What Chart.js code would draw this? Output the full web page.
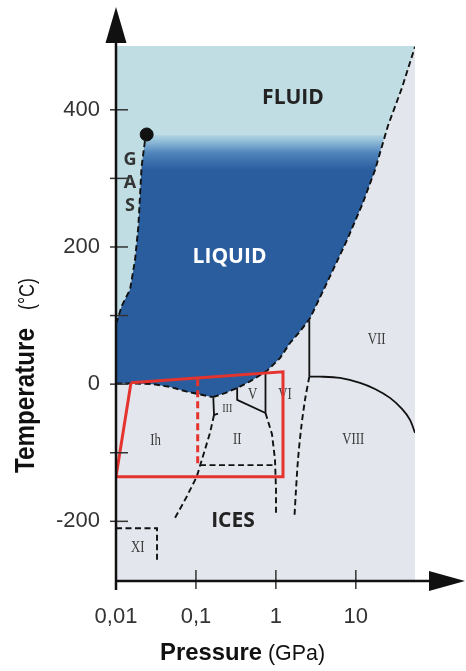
<!DOCTYPE html>
<html><head><meta charset="utf-8">
<script src="https://cdn.jsdelivr.net/npm/chart.js@4.4.0/dist/chart.umd.min.js"></script>
<style>html,body{margin:0;padding:0;background:#fff;}#wrap{width:466px;height:671px;position:relative;}</style>
</head><body><div id="wrap"><canvas id="c" width="466" height="671"></canvas></div>
<script>
// ---------- data: pressure (GPa) and temperature (°C) ----------
const xTickValues = [0.01, 0.1, 1, 10];
const xTickLabels = ['0,01', '0,1', '1', '10'];
const yTickValues = [-200, -100, 0, 100, 200, 300, 400];
const yTickLabels = ['-200', '', '0', '', '200', '', '400'];

// liquid–gas (vaporisation) curve up to the critical point
const vaporP = [0.01, 0.0119, 0.0150, 0.0173, 0.0190, 0.0209, 0.0231, 0.0242];
const vaporT = [88, 115, 138, 181, 229, 317, 356, 363];
const criticalP = [0.0242];
const criticalT = [364];

// melting curve of ice Ih
const meltIhP = [0.01, 0.0173, 0.0290, 0.0474, 0.0773, 0.1125, 0.163];
const meltIhT = [1, 1, 0, -4, -11, -15, -19];

// melting curve of high-pressure ices (III, V, VI, VII)
const meltHighP = [0.163, 0.231, 0.324, 0.475, 0.768, 1.126, 1.502, 2.004, 2.673, 4.487, 7.758, 11.95, 17.38, 25.27, 37.8, 55];
const meltHighT = [-19, -13, -6, 4, 19, 38, 60, 77, 96, 151, 210, 261, 312, 377, 432, 492];

// top edge of the liquid area (fading into the fluid)
const liquidTopP = [0.0242, 23.0];
const liquidTopT = [363, 363];

// solid–solid boundaries
const ihIIIP = [0.165, 0.1683, 0.1888];
const ihIIIT = [-20, -45, -43];
const ihIIP = [0.1683, 0.15, 0.1262, 0.1022, 0.0751, 0.0547];
const ihIIT = [-45, -71, -100, -135, -166, -195];
const iiiVP = [0.328, 0.328, 0.7415];
const iiiVT = [-5, -23, -42];
const vViP = [0.7415, 0.7415];
const vViT = [19, -42];
const iiViP = [0.7415, 0.894, 0.975, 1.0035, 1.0035];
const iiViT = [-42, -73, -110, -154, -190];
const viViiP = [2.62, 2.62];
const viViiT = [93, 11];
const viiViiiP = [2.62, 3.564, 6.339, 11.28, 17.38, 26.77, 37.82, 47.63, 55];
const viiViiiT = [11, 11, 9, 2, -7, -20, -36, -52, -71];
const viViiiP = [2.62, 2.314, 2.062, 1.891, 1.785, 1.71];
const viViiiT = [11, -23, -66, -110, -154, -192];
const iiLowP = [0.1124, 1.0035];
const iiLowT = [-118, -118];
const xiP = [0.01, 0.0326, 0.0326];
const xiT = [-210, -210, -261];

// highlighted (red) window
const boxP = [0.0154, 1.228, 1.228, 0.01, 0.0154];
const boxT = [2, 18, -135, -135, 2];
const boxDivP = [0.1052, 0.1052];
const boxDivT = [7, -119];

// region names and their anchors
const regionNames = ['FLUID', 'LIQUID', 'ICES', 'GAS', 'Ih', 'II', 'III', 'V', 'VI', 'VII', 'VIII', 'XI'];
const regionP = [1.637, 0.263, 0.2908, 0.0150, 0.0312, 0.329, 0.247, 0.513, 1.3, 18.25, 9.3, 0.0187];
const regionT = [417, 186, -200, 293, -83, -81, -35, -15, -15, 65, -81, -239];

const xMin = 0.01, xMax = 55, yMin = -287, yMax = 493;

// ---------- helpers ----------
const pts = (P, T) => P.map((p, i) => ({x: p, y: T[i]}));
const rev = a => a.slice().reverse();

const fluidShape = [{x: xMin, y: yMax}, {x: xMax, y: yMax}]
  .concat(rev(pts(meltHighP, meltHighT)), rev(pts(meltIhP, meltIhT)));
const liquidShape = pts(vaporP, vaporT)
  .concat([pts(liquidTopP, liquidTopT)[1]], rev(pts(meltHighP.slice(0, 13), meltHighT.slice(0, 13))), rev(pts(meltIhP, meltIhT)));

const AXF = '"Liberation Sans", Arial, sans-serif';
const SANS = '"Open Sans", "Liberation Sans", sans-serif';
const SERIF = '"Liberation Serif", "DejaVu Serif", serif';

function line(data, opts) {
  return Object.assign({data, showLine: true, pointRadius: 0, pointHoverRadius: 0,
    borderColor: '#111', borderWidth: 1.8, fill: false, tension: 0, order: 5}, opts);
}
const dashed = {borderDash: [6, 3.5], borderWidth: 1.9};

const liquidGradient = (c) => {
  const chart = c.chart;
  const {chartArea, scales} = chart;
  if (!chartArea || !scales.y) return '#2a5d9e';
  const y0 = scales.y.getPixelForValue(368);
  const y1 = scales.y.getPixelForValue(312);
  const g = chart.ctx.createLinearGradient(0, y0, 0, y1);
  g.addColorStop(0, '#bedde3');
  g.addColorStop(0.2, '#9cc5dc');
  g.addColorStop(0.55, '#4f84bc');
  g.addColorStop(1, '#2a5d9e');
  return g;
};

const datasets = [
  {label: 'critical', data: pts(criticalP, criticalT), showLine: false, pointRadius: 6.5,
   pointBackgroundColor: '#111', pointBorderColor: '#111', order: 1},
  line(pts(boxP, boxT), {label: 'box', borderColor: '#e5332e', borderWidth: 3, order: 2}),
  line(pts(boxDivP, boxDivT), {label: 'boxDiv', borderColor: '#e5332e', borderWidth: 3, borderDash: [7, 4], order: 2}),
  line(pts(vaporP, vaporT), Object.assign({label: 'vapor'}, dashed)),
  line(pts(meltIhP, meltIhT), Object.assign({label: 'meltIh'}, dashed)),
  line(pts(meltHighP, meltHighT), Object.assign({label: 'meltHigh'}, dashed)),
  line(pts(ihIIIP, ihIIIT), {label: 'Ih-III'}),
  line(pts(ihIIP, ihIIT), Object.assign({label: 'Ih-II'}, dashed)),
  line(pts(iiiVP, iiiVT), {label: 'III-V-II'}),
  line(pts(vViP, vViT), {label: 'V-VI'}),
  line(pts(iiViP, iiViT), Object.assign({label: 'II-VI'}, dashed)),
  line(pts(viViiP, viViiT), {label: 'VI-VII'}),
  line(pts(viiViiiP, viiViiiT), {label: 'VII-VIII', tension: 0.3}),
  line(pts(viViiiP, viViiiT), Object.assign({label: 'VI-VIII', tension: 0.3}, dashed)),
  line(pts(iiLowP, iiLowT), Object.assign({label: 'II-low'}, dashed)),
  line(pts(xiP, xiT), Object.assign({label: 'XI'}, dashed)),
  line(liquidShape, {label: 'liquid', borderWidth: 0, borderColor: 'rgba(0,0,0,0)', fill: 'shape', backgroundColor: liquidGradient, order: 19}),
  line(fluidShape, {label: 'fluid', borderWidth: 0, borderColor: 'rgba(0,0,0,0)', fill: 'shape', backgroundColor: '#bfdde3', order: 20}),
];

const bgPlugin = {
  id: 'iceBg',
  beforeDatasetsDraw(chart) {
    const {ctx, chartArea: a} = chart;
    ctx.save();
    ctx.fillStyle = '#e3e6ec';
    ctx.fillRect(a.left, a.top, a.right - a.left, a.bottom - a.top);
    ctx.restore();
  }
};

const labelPlugin = {
  id: 'regionLabels',
  afterDatasetDraw(chart, args) {
    if (chart.data.datasets[args.index].label !== 'liquid') return;
    const {ctx, scales: {x, y}} = chart;
    ctx.save();
    ctx.textAlign = 'center';
    ctx.textBaseline = 'middle';
    regionNames.forEach((name, i) => {
      const px = x.getPixelForValue(regionP[i]);
      const py = y.getPixelForValue(regionT[i]);
      if (name === 'FLUID' || name === 'ICES' || name === 'LIQUID') {
        ctx.font = 'bold 21px ' + SANS;
        ctx.fillStyle = name === 'LIQUID' ? '#ffffff' : '#222';
        ctx.fillText(name, px, py);
      } else if (name === 'GAS') {
        ctx.font = 'bold 18px ' + SANS;
        ctx.fillStyle = '#333';
        name.split('').forEach((ch, k) => ctx.fillText(ch, px, py + (k - 1) * 23));
      } else {
        ctx.save();
        ctx.translate(px, py);
        ctx.scale(0.8, 1);
        ctx.font = (name === 'III' ? '13px ' : '16px ') + SERIF;
        ctx.fillStyle = '#3c3c3c';
        ctx.fillText(name, 0, 0);
        ctx.restore();
      }
    });
    ctx.restore();
  }
};

// draw a text run squeezed to a given length (text stays text)
function fitText(ctx, text, font, x, y, width) {
  ctx.font = font;
  const w = ctx.measureText(text).width;
  ctx.save();
  ctx.translate(x, y);
  ctx.scale(width / w, 1);
  ctx.fillText(text, 0, 0);
  ctx.restore();
}

const axesPlugin = {
  id: 'axesDeco',
  afterDatasetsDraw(chart) {
    const {ctx, chartArea: a, scales: {x, y}} = chart;
    ctx.save();
    ctx.strokeStyle = '#333';
    ctx.lineWidth = 1.5;
    y.ticks.forEach(t => {
      const py = y.getPixelForValue(t.value);
      ctx.beginPath(); ctx.moveTo(a.left - 6, py); ctx.lineTo(a.left + 12, py); ctx.stroke();
    });
    x.ticks.forEach(t => {
      if (t.value === x.min) return;
      const px = x.getPixelForValue(t.value);
      ctx.beginPath(); ctx.moveTo(px, a.bottom - 11); ctx.lineTo(px, a.bottom + 8); ctx.stroke();
    });
    ctx.strokeStyle = '#111';
    ctx.fillStyle = '#111';
    ctx.lineWidth = 2.5;
    ctx.beginPath(); ctx.moveTo(a.left, a.bottom + 9); ctx.lineTo(a.left, a.top - 4); ctx.stroke();
    ctx.beginPath(); ctx.moveTo(a.left, a.bottom); ctx.lineTo(a.right + 16, a.bottom); ctx.stroke();
    ctx.beginPath(); ctx.moveTo(a.left, a.top - 39); ctx.lineTo(a.left - 10.5, a.top - 3); ctx.lineTo(a.left + 10.5, a.top - 3); ctx.closePath(); ctx.fill();
    ctx.beginPath(); ctx.moveTo(a.right + 50, a.bottom); ctx.lineTo(a.right + 14, a.bottom - 10); ctx.lineTo(a.right + 14, a.bottom + 10); ctx.closePath(); ctx.fill();

    // axis titles (bold name + regular unit)
    ctx.fillStyle = '#111';
    ctx.textBaseline = 'alphabetic';
    ctx.textAlign = 'left';
    ctx.save();
    ctx.translate(34, 473);
    ctx.rotate(-Math.PI / 2);
    fitText(ctx, 'Temperature', 'bold 28px ' + AXF, 0, 0, 145);
    fitText(ctx, '(°C)', '22px ' + AXF, 163, 0, 32);
    ctx.restore();
    fitText(ctx, 'Pressure', 'bold 24px ' + AXF, 160, 660, 102);
    fitText(ctx, '(GPa)', '22px ' + AXF, 268, 660, 57);
    ctx.restore();
  }
};

new Chart(document.getElementById('c'), {
  type: 'scatter',
  data: {datasets},
  options: {
    responsive: false,
    animation: false,
    events: [],
    layout: {padding: {left: 0, right: 51, top: 46, bottom: 0}},
    plugins: {legend: {display: false}, tooltip: {enabled: false}, title: {display: false}},
    scales: {
      x: {
        type: 'logarithmic', min: xMin, max: xMax, position: 'bottom',
        border: {display: false},
        grid: {display: false, drawTicks: false},
        afterBuildTicks: s => { s.ticks = xTickValues.map(v => ({value: v})); },
        afterFit: s => { s.height = 90; },
        ticks: {
          autoSkip: false, maxRotation: 0, minRotation: 0, padding: 23,
          color: '#333', font: {family: AXF, size: 22},
          callback: v => { const i = xTickValues.indexOf(v); return i >= 0 ? xTickLabels[i] : ''; }
        }
      },
      y: {
        type: 'linear', min: yMin, max: yMax, position: 'left',
        border: {display: false},
        grid: {display: false, drawTicks: false},
        afterBuildTicks: s => { s.ticks = yTickValues.map(v => ({value: v})); },
        afterFit: s => { s.width = 116; },
        ticks: {
          autoSkip: false, padding: 16,
          color: '#333', font: {family: AXF, size: 22},
          callback: v => { const i = yTickValues.indexOf(v); return i >= 0 ? yTickLabels[i] : ''; }
        }
      }
    }
  },
  plugins: [bgPlugin, labelPlugin, axesPlugin]
});
</script>
</body></html>
